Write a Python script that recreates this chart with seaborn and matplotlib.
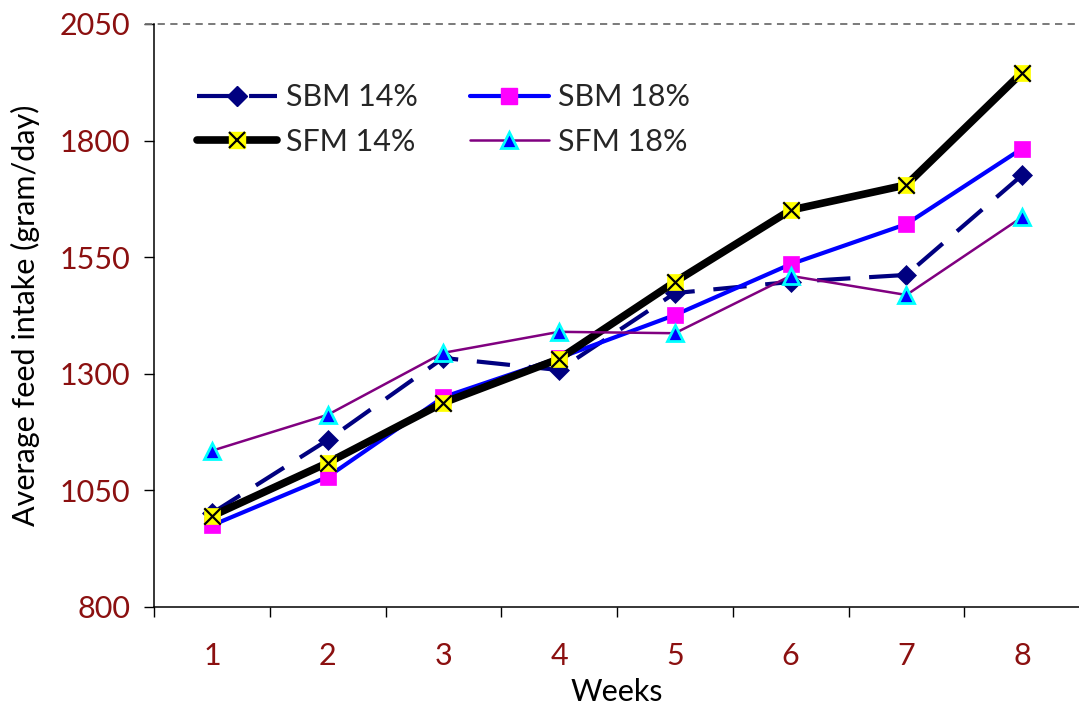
import matplotlib
matplotlib.use("Agg")
import matplotlib.pyplot as plt
import seaborn as sns
import numpy as np
import pandas as pd
from matplotlib.lines import Line2D
from matplotlib.legend_handler import HandlerTuple

weeks = [1, 2, 3, 4, 5, 6, 7, 8]
sbm14 = [1001, 1158, 1334, 1308, 1473, 1497, 1512, 1726]
sbm18 = [975, 1079, 1250, 1334, 1426, 1535, 1621, 1783]
sfm14 = [995, 1109, 1238, 1332, 1497, 1651, 1705, 1946]
sfm18 = [1135, 1212, 1345, 1390, 1387, 1510, 1469, 1636]
series_names = ["SBM 14%", "SBM 18%", "SFM 14%", "SFM 18%"]
y_ticks = [800, 1050, 1300, 1550, 1800, 2050]

sns.set_style("white")
plt.rcParams['font.family'] = ['Lato', 'DejaVu Sans']

FS = 22
TICK_COLOR = "#8B1010"

fig = plt.figure(figsize=(10.79, 7.13), dpi=100)
ax = fig.add_axes([154/1079, 1-607/713, (1080-154)/1079, (607-24)/713])

# SBM 14%
sns.lineplot(x=weeks, y=sbm14, ax=ax, color="#000080", linewidth=3.0,
             marker="D", markersize=10, markerfacecolor="#000080",
             markeredgecolor="#000080", markeredgewidth=0.5, zorder=3)
ax.lines[-1].set_dashes([8, 4.5])
# SBM 18%
sns.lineplot(x=weeks, y=sbm18, ax=ax, color="#0000FF", linewidth=3.0,
             marker="s", markersize=12, markerfacecolor="#FF00FF",
             markeredgecolor="#FF00FF", markeredgewidth=0.5, zorder=4)
# SFM 14%
sns.lineplot(x=weeks, y=sfm14, ax=ax, color="black", linewidth=5.5,
             marker="s", markersize=12, markerfacecolor="#FFFF00",
             markeredgecolor="#FFFF00", markeredgewidth=0.5, zorder=5)
sns.scatterplot(x=weeks, y=sfm14, ax=ax, marker="x", s=140, color="black",
                linewidth=1.6, zorder=6)
# SFM 18%
sns.lineplot(x=weeks, y=sfm18, ax=ax, color="#800080", linewidth=1.8,
             marker="^", markersize=11, markerfacecolor="#0000FF",
             markeredgecolor="#00FFFF", markeredgewidth=2, zorder=7)

ax.set_xlim(0.5, 8.5)
ax.set_ylim(800, 2050)
ax.set_yticks(y_ticks)
ax.set_yticklabels([str(v) for v in y_ticks])
ax.set_xticks(weeks)
ax.set_xticklabels([str(w) for w in weeks])
ax.set_xticks(np.arange(0.5, 9.0, 1.0), minor=True)
ax.tick_params(axis="x", which="major", length=0, pad=25, labelsize=FS, labelcolor=TICK_COLOR)
ax.tick_params(axis="x", which="minor", length=7, width=1, color="black", direction="out", bottom=True)
ax.tick_params(axis="y", which="major", length=7, width=1, color="black", direction="out",
               pad=10, labelsize=FS, labelcolor=TICK_COLOR, left=True)

for s in ["top", "right"]:
    ax.spines[s].set_visible(False)
for s in ["left", "bottom"]:
    ax.spines[s].set_color("black")
    ax.spines[s].set_linewidth(1.1)

ax.axhline(2050, xmin=-9/926, xmax=1.0, color="#707070", linewidth=1.3,
           linestyle=(0, (4, 3)), clip_on=False, zorder=1)

ax.set_xlabel("Weeks", fontsize=FS, color="black", labelpad=6)
ax.set_ylabel("Average feed intake (gram/day)", fontsize=FS, color="black", labelpad=14)

h1 = Line2D([], [], color="#000080", linewidth=3.0, dashes=[8, 4.5], marker="D", markersize=10,
            markerfacecolor="#000080", markeredgecolor="#000080")
h2 = Line2D([], [], color="#0000FF", linewidth=3.0, marker="s", markersize=12,
            markerfacecolor="#FF00FF", markeredgecolor="#FF00FF")
h3a = Line2D([], [], color="black", linewidth=5.5, marker="s", markersize=12,
             markerfacecolor="#FFFF00", markeredgecolor="#FFFF00")
h3b = Line2D([], [], linestyle="none", marker="x", markersize=11, color="black", markeredgewidth=1.6)
h4 = Line2D([], [], color="#800080", linewidth=1.8, marker="^", markersize=11,
            markerfacecolor="#0000FF", markeredgecolor="#00FFFF", markeredgewidth=2)

leg = ax.legend([h1, (h3a, h3b), h2, h4],
                [series_names[0], series_names[2], series_names[1], series_names[3]],
                handler_map={tuple: HandlerTuple(ndivide=1, pad=0)},
                ncol=2, frameon=False, fontsize=FS, loc="upper left",
                bbox_to_anchor=(182/1079, 1-68/713), bbox_transform=fig.transFigure,
                borderpad=0, handlelength=2.6, handletextpad=0.3, columnspacing=1.7,
                labelspacing=0.55)

fig.savefig("out.png", dpi=100)
